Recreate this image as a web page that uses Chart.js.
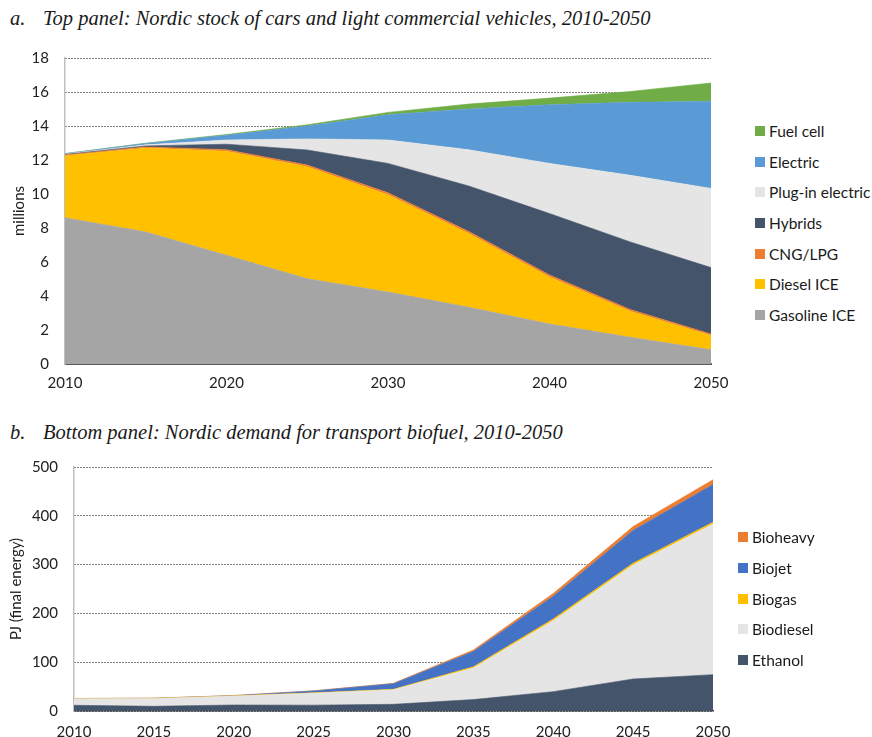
<!DOCTYPE html>
<html>
<head>
<meta charset="utf-8">
<script src="https://cdn.jsdelivr.net/npm/chart.js@4.4.1/dist/chart.umd.min.js"></script>
<style>
  html, body { margin: 0; padding: 0; background: #fff; overflow: hidden; width: 872px; height: 737px; }
  .title { position: absolute; font-family: "Liberation Serif", serif; font-style: italic; font-size: 20.5px; color: #1a1a1a; white-space: nowrap; }
  .wrap { position: absolute; }
  .legend { position: absolute; font-family: Lato, "Open Sans", sans-serif; font-size: 15.5px; color: #1a1a1a; }
  .legend .item { position: absolute; white-space: nowrap; height: 18px; line-height: 18px; }
  .legend .sw { position: absolute; width: 10px; height: 10px; top: 4px; left: 0; }
  .legend .tx { position: absolute; top: 0; }
</style>
</head>
<body>
<div class="title" style="left:10px; top:7px;">a.</div>
<div class="title" style="left:43px; top:7px;">Top panel: Nordic stock of cars and light commercial vehicles, 2010-2050</div>
<div class="title" style="left:10px; top:421px;">b.</div>
<div class="title" style="left:43px; top:421px;">Bottom panel: Nordic demand for transport biofuel, 2010-2050</div>

<div class="wrap" style="left:0; top:40px; width:740px; height:360px;"><canvas id="top"></canvas></div>
<div class="wrap" style="left:0; top:445px; width:740px; height:295px;"><canvas id="bottom"></canvas></div>

<div class="legend" id="legTop"></div>
<div class="legend" id="legBottom"></div>

<script>
// ---------- Top panel data (millions of vehicles, per category) ----------
const years = ['2010','2015','2020','2025','2030','2035','2040','2045','2050'];
const gasolineICE   = [8.60, 7.77, 6.39, 5.02, 4.23, 3.34, 2.36, 1.57, 0.84];
const dieselICE     = [3.65, 4.93, 6.13, 6.58, 5.72, 4.34, 2.76, 1.53, 0.84];
const cngLpg        = [0.05, 0.07, 0.09, 0.10, 0.12, 0.12, 0.12, 0.10, 0.08];
const hybrids       = [0.03, 0.06, 0.32, 0.89, 1.73, 2.67, 3.61, 3.98, 3.91];
const plugInElec    = [0.02, 0.06, 0.25, 0.65, 1.38, 2.13, 2.95, 3.92, 4.66];
const electric      = [0.02, 0.08, 0.28, 0.76, 1.48, 2.40, 3.45, 4.29, 5.12];
const fuelCell      = [0.01, 0.02, 0.04, 0.07, 0.14, 0.29, 0.39, 0.64, 1.08];
const topYTicks     = [0, 2, 4, 6, 8, 10, 12, 14, 16, 18];

// ---------- Bottom panel data (PJ final energy, per fuel) ----------
const ethanol   = [11.7, 9.6, 12.3, 12.0, 13.7, 23.4, 39.7, 65.6, 74.5];
const biodiesel = [13.3, 15.9, 18.2, 24.5, 29.8, 64.6, 145.3, 233.4, 308.5];
const biogas    = [0.5, 0.5, 0.5, 0.8, 1.0, 2.5, 3.5, 4.0, 4.0];
const biojet    = [0.0, 0.0, 0.5, 3.7, 11.5, 31.5, 46.5, 67.0, 77.0];
const bioheavy  = [0.3, 0.3, 0.3, 0.5, 0.8, 3.0, 6.0, 8.0, 10.0];
const bottomYTicks = [0, 100, 200, 300, 400, 500];

const C = {
  fuel: '#70AD47', elec: '#5B9BD5', plug: '#E5E5E5', hyb: '#44546A',
  cng: '#ED7D31', diesel: '#FFC000', gas: '#A5A5A5', jet: '#4472C4'
};

const topSeries = [
  { label: 'Gasoline ICE', data: gasolineICE, color: C.gas },
  { label: 'Diesel ICE', data: dieselICE, color: C.diesel },
  { label: 'CNG/LPG', data: cngLpg, color: C.cng },
  { label: 'Hybrids', data: hybrids, color: C.hyb },
  { label: 'Plug-in electric', data: plugInElec, color: C.plug },
  { label: 'Electric', data: electric, color: C.elec },
  { label: 'Fuel cell', data: fuelCell, color: C.fuel }
];
const bottomSeries = [
  { label: 'Ethanol', data: ethanol, color: C.hyb },
  { label: 'Biodiesel', data: biodiesel, color: C.plug },
  { label: 'Biogas', data: biogas, color: C.diesel },
  { label: 'Biojet', data: biojet, color: C.jet },
  { label: 'Bioheavy', data: bioheavy, color: C.cng }
];

function mkDatasets(series) {
  return series.map((s, i) => ({
    label: s.label,
    data: s.data,
    backgroundColor: s.color,
    borderColor: s.color,
    borderWidth: 0.6,
    pointRadius: 0,
    tension: 0,
    fill: i === 0 ? 'origin' : '-1'
  }));
}

const tickFont = { family: 'Lato, "Open Sans", sans-serif', size: 15 };

function mkChart(id, series, opts) {
  return new Chart(document.getElementById(id), {
    type: 'line',
    data: { labels: years, datasets: mkDatasets(series) },
    options: {
      responsive: true,
      maintainAspectRatio: false,
      animation: false,
      events: [],
      layout: { padding: { left: 0, right: opts.padRight, top: opts.padTop, bottom: 0 } },
      plugins: { legend: { display: false }, tooltip: { enabled: false } },
      scales: {
        x: {
          type: 'category',
          offset: false,
          grid: { display: false, drawTicks: false },
          border: { display: true, color: opts.xBorderColor, width: opts.xBorderWidth },
          ticks: {
            autoSkip: false, maxRotation: 0, padding: opts.xTickPad,
            color: '#222', font: tickFont,
            callback: function (v, i) { return opts.showX(i) ? years[i] : ''; }
          },
          afterFit: s => { s.height = opts.xHeight; s.paddingLeft = 0; s.paddingRight = 0; }
        },
        y: {
          stacked: true,
          min: opts.yTicks[0],
          max: opts.yTicks[opts.yTicks.length - 1],
          afterBuildTicks: s => { s.ticks = opts.yTicks.map(v => ({ value: v })); },
          grid: { color: '#000', lineWidth: 1, drawTicks: false },
          border: { display: true, color: '#BFBFBF', width: 1.5, dash: [1, 2] },
          ticks: { padding: 16, color: '#222', font: tickFont },
          title: { display: true, text: opts.yTitle, color: '#222', font: tickFont, padding: { top: opts.yTitlePad, bottom: 0 } },
          afterFit: s => { s.width = opts.yWidth; s.paddingTop = 0; s.paddingBottom = 0; }
        }
      }
    }
  });
}

const topChart = mkChart('top', topSeries, {
  padRight: 29, padTop: 18, xHeight: 36, xTickPad: 10,
  xBorderColor: '#595959', xBorderWidth: 2,
  showX: i => i % 2 === 0, yTicks: topYTicks, yTitle: 'millions', yTitlePad: 10, yWidth: 65
});
const bottomChart = mkChart('bottom', bottomSeries, {
  padRight: 27, padTop: 22, xHeight: 29, xTickPad: 12,
  xBorderColor: '#333333', xBorderWidth: 1.5,
  showX: i => true, yTicks: bottomYTicks, yTitle: 'PJ (final energy)', yTitlePad: 7, yWidth: 74
});

function buildLegend(elId, series, left, ys) {
  const el = document.getElementById(elId);
  const ordered = series.slice().reverse();
  ordered.forEach((s, i) => {
    const it = document.createElement('div');
    it.className = 'item';
    it.style.left = left + 'px';
    it.style.top = (ys[i] - 9) + 'px';
    const sw = document.createElement('div');
    sw.className = 'sw';
    sw.style.background = s.color;
    const tx = document.createElement('div');
    tx.className = 'tx';
    tx.style.left = '14px';
    tx.textContent = s.label;
    it.appendChild(sw); it.appendChild(tx);
    el.appendChild(it);
  });
}
buildLegend('legTop', topSeries, 755, [131, 162, 192, 223, 254, 284, 315]);
buildLegend('legBottom', bottomSeries, 738, [537, 568, 599, 629, 660]);
</script>
</body>
</html>
